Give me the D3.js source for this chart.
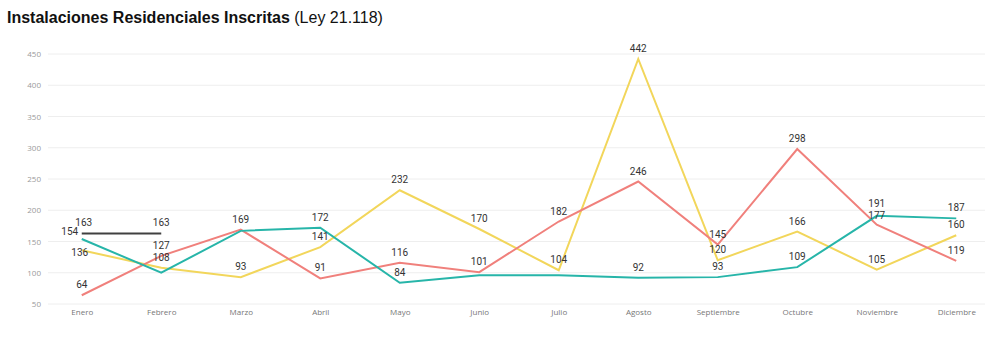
<!DOCTYPE html>
<html>
<head>
<meta charset="utf-8">
<script src="https://cdn.jsdelivr.net/npm/d3@7"></script>
<style>
  html, body { margin: 0; padding: 0; background: #fff; }
  svg { display: block; }
</style>
</head>
<body>
<svg id="chart" width="987" height="337"></svg>
<script>
// Months on the x axis
const months = ["Enero", "Febrero", "Marzo", "Abril", "Mayo", "Junio", "Julio",
  "Agosto", "Septiembre", "Octubre", "Noviembre", "Diciembre"];

// Monthly registrations per series (null = no value that month)
const redValues    = [64, 127, 169, 91, 116, 101, 182, 246, 145, 298, 177, 119];
const tealValues   = [154, 100, 167, 172, 84, 96, 96, 92, 93, 109, 191, 187];
const yellowValues = [136, 108, 93, 141, 232, 170, 104, 442, 120, 166, 105, 160];
const darkValues   = [163, 163, null, null, null, null, null, null, null, null, null, null];

// Months whose data label is hidden (labels would collide)
const tealHiddenLabels = ["Febrero", "Marzo", "Junio", "Julio"];

const yTicks = [50, 100, 150, 200, 250, 300, 350, 400, 450];

const series = [
  { name: "yellow", color: "#F2D65B", values: yellowValues, hidden: [] },
  { name: "red",    color: "#F0807C", values: redValues,    hidden: [] },
  { name: "teal",   color: "#27B5A9", values: tealValues,   hidden: tealHiddenLabels },
  { name: "dark",   color: "#404040", values: darkValues,   hidden: [] }
];

const svg = d3.select("#chart");

// Title
const title = svg.append("text")
  .attr("x", 7).attr("y", 23)
  .attr("font-family", "Liberation Sans, Arial, sans-serif")
  .attr("font-size", 16)
  .attr("fill", "#111");
title.append("tspan").attr("font-weight", "bold").text("Instalaciones Residenciales Inscritas");
title.append("tspan").text(" (Ley 21.118)");

const x = d3.scalePoint().domain(months).range([42, 996]).padding(0.5);
const y = d3.scaleLinear().domain([50, 450]).range([304, 54]);

// Gridlines
svg.append("g").selectAll("line").data(yTicks).join("line")
  .attr("x1", 48).attr("x2", 985)
  .attr("y1", d => y(d)).attr("y2", d => y(d))
  .attr("stroke", "#EEEEEE").attr("stroke-width", 1);

// Y axis labels
const yAxis = svg.append("g").attr("transform", "translate(42,0)")
  .call(d3.axisLeft(y).tickValues(yTicks).tickSize(0).tickPadding(1));
yAxis.select(".domain").remove();
yAxis.selectAll("text")
  .attr("font-family", "Open Sans, sans-serif")
  .attr("font-size", 8)
  .attr("fill", "#9a9a9a");

// X axis labels
const xAxis = svg.append("g").attr("transform", "translate(0,308)")
  .call(d3.axisBottom(x).tickSize(0).tickPadding(1));
xAxis.select(".domain").remove();
xAxis.selectAll("text")
  .attr("font-family", "Open Sans, sans-serif")
  .attr("font-size", 8)
  .attr("fill", "#777");

// Lines
const line = d3.line()
  .defined(d => d.v != null)
  .x(d => x(d.m))
  .y(d => y(d.v));

series.forEach(s => {
  const pts = months.map((m, i) => ({ m, v: s.values[i] }));
  svg.append("path")
    .datum(pts)
    .attr("d", line)
    .attr("fill", "none")
    .attr("stroke", s.color)
    .attr("stroke-width", 2)
    .attr("stroke-linejoin", "miter");
});

// Nudges for labels that would otherwise sit on top of each other
const labelNudge = {
  "teal|Enero": [-12, 3],
  "yellow|Enero": [-2, 13],
  "dark|Enero": [2, 0],
  "teal|Noviembre": [0, -2],
  "red|Noviembre": [0, 1]
};

series.forEach(s => {
  const pts = months.map((m, i) => ({ m, v: s.values[i] }))
    .filter(d => d.v != null && !s.hidden.includes(d.m));
  svg.append("g").selectAll("text").data(pts).join("text")
    .attr("x", d => x(d.m) + ((labelNudge[s.name + "|" + d.m] || [0, 0])[0]))
    .attr("y", d => y(d.v) - 7 + ((labelNudge[s.name + "|" + d.m] || [0, 0])[1]))
    .attr("text-anchor", "middle")
    .attr("font-family", "Roboto, sans-serif")
    .attr("font-size", 10)
    .attr("fill", "#333")
    .text(d => d.v);
});
</script>
</body>
</html>
